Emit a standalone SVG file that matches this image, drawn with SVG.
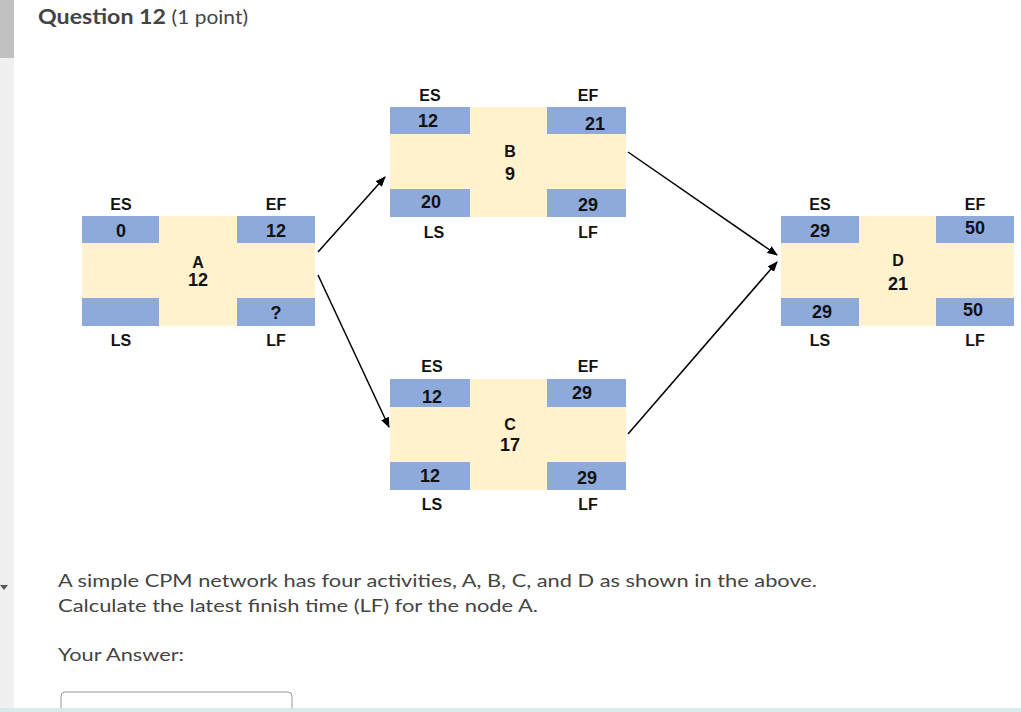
<svg xmlns="http://www.w3.org/2000/svg" width="1021" height="712" viewBox="0 0 1021 712">
<style>
.b{fill:#8eaadb}.y{fill:#fff2cc}
.t{font-family:"Liberation Sans",Arial,sans-serif;font-weight:bold;font-size:16px;fill:#111;text-anchor:middle}
.v{font-size:18px}
.q{font-family:Lato,"Liberation Sans",sans-serif;fill:#444}
.c{stroke:#000;stroke-width:1.5;fill:none;marker-end:url(#ah)}
</style>
<defs><marker id="ah" viewBox="0 0 10 10" refX="9" refY="5" markerWidth="7" markerHeight="7" orient="auto"><path d="M0,1L10,5L0,9z" fill="#000"/></marker></defs>
<rect width="1021" height="712" fill="#fff"/>
<rect x="0" y="0" width="14" height="712" fill="#f0f0f0"/>
<rect x="0" y="0" width="14" height="58" fill="#c0c0c0"/>
<path d="M0,585h8l-4,5z" fill="#555"/>
<text x="38" y="24" class="q" font-size="21" font-weight="bold" textLength="210" lengthAdjust="spacingAndGlyphs">Question 12 <tspan font-weight="normal" font-size="19">(1 point)</tspan></text>

<g id="nodeA">
<rect class="y" x="82" y="243" width="233" height="55"/><rect class="y" x="159" y="216" width="78" height="110"/>
<rect class="b" x="82" y="216" width="77" height="27"/><rect class="b" x="237" y="216" width="78" height="27"/>
<rect class="b" x="82" y="298" width="77" height="28"/><rect class="b" x="237" y="298" width="78" height="28"/>
<text class="t" x="121" y="210">ES</text><text class="t" x="276" y="210">EF</text>
<text class="t v" x="121" y="237">0</text><text class="t v" x="276" y="237">12</text>
<text class="t" x="198" y="268">A</text><text class="t v" x="198" y="286">12</text>
<text class="t v" x="276" y="319">?</text>
<text class="t" x="121" y="346">LS</text><text class="t" x="276" y="346">LF</text>
</g>
<g id="nodeB">
<rect class="y" x="390" y="134" width="236" height="55"/><rect class="y" x="470" y="107" width="77" height="110"/>
<rect class="b" x="390" y="107" width="80" height="27"/><rect class="b" x="547" y="107" width="79" height="27"/>
<rect class="b" x="390" y="189" width="80" height="28"/><rect class="b" x="547" y="189" width="79" height="28"/>
<text class="t" x="430" y="101">ES</text><text class="t" x="588" y="101">EF</text>
<text class="t v" x="428" y="127">12</text><text class="t v" x="595" y="130">21</text>
<text class="t" x="510" y="157">B</text><text class="t v" x="510" y="180">9</text>
<text class="t v" x="431" y="208">20</text><text class="t v" x="588" y="211">29</text>
<text class="t" x="434" y="238">LS</text><text class="t" x="588" y="238">LF</text>
</g>
<g id="nodeC">
<rect class="y" x="390" y="407" width="236" height="55"/><rect class="y" x="470" y="379" width="77" height="111"/>
<rect class="b" x="390" y="379" width="80" height="28"/><rect class="b" x="547" y="379" width="79" height="28"/>
<rect class="b" x="390" y="462" width="80" height="28"/><rect class="b" x="547" y="462" width="79" height="28"/>
<text class="t" x="432" y="372">ES</text><text class="t" x="588" y="372">EF</text>
<text class="t v" x="432" y="403">12</text><text class="t v" x="582" y="399">29</text>
<text class="t" x="510" y="430">C</text><text class="t v" x="510" y="451">17</text>
<text class="t v" x="430" y="482">12</text><text class="t v" x="587" y="484">29</text>
<text class="t" x="432" y="510">LS</text><text class="t" x="588" y="510">LF</text>
</g>
<g id="nodeD">
<rect class="y" x="781" y="243" width="233" height="55"/><rect class="y" x="859" y="216" width="77" height="110"/>
<rect class="b" x="781" y="216" width="78" height="27"/><rect class="b" x="936" y="216" width="78" height="27"/>
<rect class="b" x="781" y="298" width="78" height="28"/><rect class="b" x="936" y="298" width="78" height="28"/>
<text class="t" x="820" y="210">ES</text><text class="t" x="975" y="210">EF</text>
<text class="t v" x="820" y="237">29</text><text class="t v" x="975" y="234">50</text>
<text class="t" x="898" y="266">D</text><text class="t v" x="898" y="290">21</text>
<text class="t v" x="822" y="318">29</text><text class="t v" x="973" y="316">50</text>
<text class="t" x="820" y="346">LS</text><text class="t" x="975" y="346">LF</text>
</g>
<g id="connectors">
<line class="c" x1="318" y1="252" x2="385" y2="177"/>
<line class="c" x1="318" y1="275" x2="389" y2="427"/>
<line class="c" x1="628" y1="152" x2="777" y2="255"/>
<line class="c" x1="628" y1="434" x2="777" y2="262"/>
</g>
<text x="58" y="587" class="q" font-size="18" textLength="759" lengthAdjust="spacingAndGlyphs">A simple CPM network has four activities, A, B, C, and D as shown in the above.</text>
<text x="58" y="612" class="q" font-size="18" textLength="480" lengthAdjust="spacingAndGlyphs">Calculate the latest finish time (LF) for the node A.</text>
<text x="58" y="661" class="q" font-size="18" textLength="126" lengthAdjust="spacingAndGlyphs">Your Answer:</text>
<rect x="61" y="692" width="231" height="30" rx="4" fill="#fff" stroke="#999"/>
<rect x="0" y="708" width="1021" height="4" fill="#d6ecec"/>
</svg>
